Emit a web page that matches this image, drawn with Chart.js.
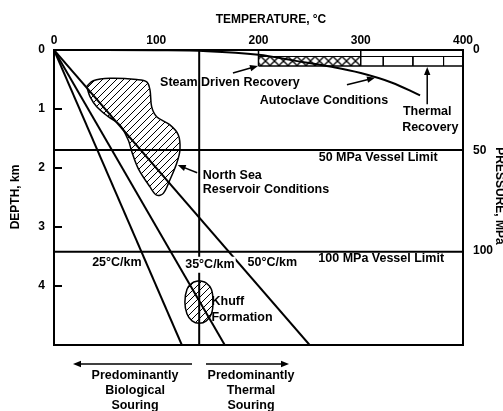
<!DOCTYPE html>
<html>
<head>
<meta charset="utf-8">
<script src="https://cdn.jsdelivr.net/npm/chart.js@4.4.0/dist/chart.umd.min.js"></script>
<style>
html, body { margin: 0; padding: 0; background: #fff; }
#wrap { width: 503px; height: 411px; }
</style>
</head>
<body>
<div id="wrap"><canvas id="depthChart" width="503" height="411"></canvas></div>
<script>
// axis ticks
var tempTicks = [0, 100, 200, 300, 400];
var depthTicks = [0, 1, 2, 3, 4];
var pressureTicks = [0, 50, 100];

// [temperature degC, depth km]
var grad25 = [[0, 0], [125, 5]];
var grad35 = [[0, 0], [167, 5]];
var grad50 = [[0, 0], [250, 5]];
var souringSplit = [[142, 0], [142, 5]];
var limit50 = [[0, 1.695], [400, 1.695]];
var limit100 = [[0, 3.42], [400, 3.42]];
var autoclave = [[0, 0], [100, 0.005], [150, 0.02], [200, 0.08], [235, 0.18], [270, 0.28], [300, 0.39], [330, 0.55], [358, 0.77]];
var northSea = [[32, 0.62], [38.4, 0.52], [54.8, 0.48], [80.9, 0.5], [90.7, 0.54], [93.9, 0.68], [95.5, 0.96], [100.4, 1.13],
  [113.4, 1.27], [121.6, 1.44], [123.2, 1.69], [120, 1.92], [113.4, 2.2], [106.9, 2.43], [100.4, 2.46], [93.9, 2.32],
  [82.4, 2.01], [76, 1.72], [72.7, 1.53], [64.5, 1.27], [53.1, 1.13], [41.8, 0.96], [35.2, 0.79], [32, 0.62]];
var khuff = [[142, 3.91], [149, 3.95], [154, 4.06], [155.5, 4.27], [154, 4.47], [149, 4.59], [142, 4.63], [135, 4.59],
  [130, 4.47], [128, 4.27], [130, 4.06], [135, 3.95], [142, 3.91]];
// recovery boxes along the top
var boxLeft = [[200, 0], [200, 0.27]];
var boxBottom = [[200, 0.27], [400, 0.27]];
var boxMiddle = [[200, 0.11], [400, 0.11]];
var boxDivider = [[300, 0], [300, 0.27]];
var steamBand = [[200, 0.11], [300, 0.11], [300, 0.27], [200, 0.27], [200, 0.11]];
var brickTemps = [322, 351, 381];

var FONT = '"Liberation Sans", Arial, sans-serif';
Chart.defaults.font.family = FONT;
Chart.defaults.color = '#000';

function pts(arr) {
  return arr.map(function (p) { return { x: p[0], y: p[1] }; });
}

function hatch(size, cross, lw) {
  var c = document.createElement('canvas');
  c.width = size; c.height = size;
  var g = c.getContext('2d');
  g.strokeStyle = '#000';
  g.lineWidth = lw;
  g.beginPath();
  g.moveTo(0, size); g.lineTo(size, 0);
  g.moveTo(-2, 2); g.lineTo(2, -2);
  g.moveTo(size - 2, size + 2); g.lineTo(size + 2, size - 2);
  if (cross) {
    g.moveTo(0, 0); g.lineTo(size, size);
    g.moveTo(-2, size - 2); g.lineTo(2, size + 2);
    g.moveTo(size - 2, -2); g.lineTo(size + 2, 2);
  }
  g.stroke();
  return g.createPattern(c, 'repeat');
}
var diagHatch = hatch(7, false, 1);
var crossHatch = hatch(9, true, 1.3);

function line(data, width, extra) {
  var ds = {
    data: pts(data),
    showLine: true,
    borderColor: '#000',
    borderWidth: width,
    pointRadius: 0,
    fill: false
  };
  for (var k in extra) ds[k] = extra[k];
  return ds;
}

var datasets = [
  line(grad25, 2),
  line(grad35, 2),
  line(grad50, 2),
  line(souringSplit, 2),
  line(limit50, 2),
  line(limit100, 2),
  line(autoclave, 2, { tension: 0.4 }),
  line(northSea, 1.5, { tension: 0.35, fill: 'shape', backgroundColor: diagHatch }),
  line(khuff, 1.5, { tension: 0.35, fill: 'shape', backgroundColor: diagHatch }),
  line(boxLeft, 1.5),
  line(boxBottom, 1.5),
  line(boxMiddle, 1),
  line(boxDivider, 1.5),
  line(steamBand, 0, { fill: 'shape', backgroundColor: crossHatch })
];
brickTemps.forEach(function (t) {
  datasets.push(line([[t, 0.11], [t, 0.27]], 1));
});

// in-plot notes: [text, temp, depth, align, white backing]
var notes = [
  ['Steam Driven Recovery', 172, 0.56, 'center'],
  ['Autoclave Conditions', 264, 0.85, 'center'],
  ['Thermal', 365, 1.05, 'center'],
  ['Recovery', 368, 1.31, 'center'],
  ['North Sea', 145.5, 2.12, 'left'],
  ['Reservoir Conditions', 145.5, 2.37, 'left'],
  ['50 MPa Vessel Limit', 317, 1.83, 'center'],
  ['100 MPa Vessel Limit', 320, 3.53, 'center'],
  ['25°C/km', 61.5, 3.61, 'center'],
  ['35°C/km', 152.5, 3.64, 'center', true],
  ['50°C/km', 213.5, 3.61, 'center'],
  ['Khuff', 154, 4.27, 'left'],
  ['Formation', 154, 4.53, 'left']
];
// arrows: [fromTemp, fromDepth, toTemp, toDepth]
var pointers = [
  [175, 0.39, 199.5, 0.27],
  [286.5, 0.59, 314, 0.47],
  [365, 0.92, 365, 0.29],
  [140, 2.08, 121, 1.95]
];

function arrow(ctx, x1, y1, x2, y2) {
  var a = Math.atan2(y2 - y1, x2 - x1);
  ctx.beginPath();
  ctx.moveTo(x1, y1);
  ctx.lineTo(x2 - 5 * Math.cos(a), y2 - 5 * Math.sin(a));
  ctx.stroke();
  ctx.beginPath();
  ctx.moveTo(x2, y2);
  ctx.lineTo(x2 - 8 * Math.cos(a) + 3.2 * Math.sin(a), y2 - 8 * Math.sin(a) - 3.2 * Math.cos(a));
  ctx.lineTo(x2 - 8 * Math.cos(a) - 3.2 * Math.sin(a), y2 - 8 * Math.sin(a) + 3.2 * Math.cos(a));
  ctx.closePath();
  ctx.fill();
}

var notesPlugin = {
  id: 'notes',
  beforeDatasetsDraw: function (chart) {
    var y = chart.scales.y;
    crossHatch.setTransform(new DOMMatrix().translate(0, y.getPixelForValue(0.11)));
  },
  afterDraw: function (chart) {
    var ctx = chart.ctx, xs = chart.scales.x, ys = chart.scales.y, area = chart.chartArea;
    ctx.save();
    ctx.fillStyle = '#000';
    ctx.strokeStyle = '#000';

    // inward tick marks on depth axis
    ctx.lineWidth = 2;
    depthTicks.slice(1).forEach(function (d) {
      var py = Math.round(ys.getPixelForValue(d));
      ctx.beginPath();
      ctx.moveTo(area.left, py);
      ctx.lineTo(area.left + 8, py);
      ctx.stroke();
    });

    ctx.font = 'bold 12.5px ' + FONT;
    ctx.textBaseline = 'middle';
    notes.forEach(function (n) {
      var px = xs.getPixelForValue(n[1]), py = ys.getPixelForValue(n[2]);
      ctx.textAlign = n[3];
      if (n[4]) {
        var w = ctx.measureText(n[0]).width;
        ctx.fillStyle = '#fff';
        ctx.fillRect(px - w / 2 - 1, py - 8, w + 2, 16);
        ctx.fillStyle = '#000';
      }
      ctx.fillText(n[0], px, py);
    });

    ctx.lineWidth = 1.5;
    pointers.forEach(function (p) {
      arrow(ctx, xs.getPixelForValue(p[0]), ys.getPixelForValue(p[1]),
        xs.getPixelForValue(p[2]), ys.getPixelForValue(p[3]));
    });

    // axis titles
    ctx.font = 'bold 12px ' + FONT;
    ctx.textAlign = 'center';
    ctx.fillText('TEMPERATURE, °C', 271, 20);
    ctx.save();
    ctx.translate(16, 197);
    ctx.rotate(-Math.PI / 2);
    ctx.fillText('DEPTH, km', 0, 0);
    ctx.restore();
    ctx.save();
    ctx.translate(499, 196);
    ctx.rotate(Math.PI / 2);
    ctx.fillText('PRESSURE, MPa', 0, 0);
    ctx.restore();

    // souring arrows under the plot
    var below = area.bottom;
    ctx.lineWidth = 1.5;
    arrow(ctx, 192, below + 19, 73, below + 19);
    arrow(ctx, 206, below + 19, 289, below + 19);
    ctx.font = 'bold 12.5px ' + FONT;
    [['Predominantly', 'Predominantly'], ['Biological', 'Thermal'], ['Souring', 'Souring']].forEach(function (row, i) {
      ctx.fillText(row[0], 135, below + 31 + i * 15);
      ctx.fillText(row[1], 251, below + 31 + i * 15);
    });
    ctx.restore();
  }
};

function fixTicks(list) {
  return function (scale) {
    scale.ticks = list.map(function (v) { return { value: v }; });
  };
}

new Chart(document.getElementById('depthChart'), {
  type: 'scatter',
  data: { datasets: datasets },
  options: {
    responsive: false,
    animation: false,
    layout: { padding: 0 },
    plugins: { legend: { display: false }, tooltip: { enabled: false } },
    scales: {
      x: {
        type: 'linear', position: 'top', min: 0, max: 400,
        afterBuildTicks: fixTicks(tempTicks),
        afterFit: function (s) { s.height = 50; },
        grid: { display: false, tickLength: 0 },
        border: { display: true, width: 2, color: '#000' },
        ticks: { padding: 2, font: { size: 12, weight: 'bold' }, color: '#000' }
      },
      xb: {
        type: 'linear', position: 'bottom', min: 0, max: 400,
        afterFit: function (s) { s.height = 66; },
        grid: { display: false, tickLength: 0 },
        border: { display: true, width: 2, color: '#000' },
        ticks: { display: false }
      },
      y: {
        type: 'linear', position: 'left', min: 0, max: 5, reverse: true,
        afterBuildTicks: fixTicks(depthTicks),
        afterFit: function (s) { s.width = 54; },
        grid: { display: false, tickLength: 0 },
        border: { display: true, width: 2, color: '#000' },
        ticks: { padding: 9, font: { size: 12, weight: 'bold' }, color: '#000' }
      },
      yp: {
        type: 'linear', position: 'right', min: 0, max: 147, reverse: true,
        afterBuildTicks: fixTicks(pressureTicks),
        afterFit: function (s) { s.width = 40; },
        grid: { display: false, tickLength: 0 },
        border: { display: true, width: 2, color: '#000' },
        ticks: { padding: 10, font: { size: 12, weight: 'bold' }, color: '#000' }
      }
    }
  },
  plugins: [notesPlugin]
});
</script>
</body>
</html>
